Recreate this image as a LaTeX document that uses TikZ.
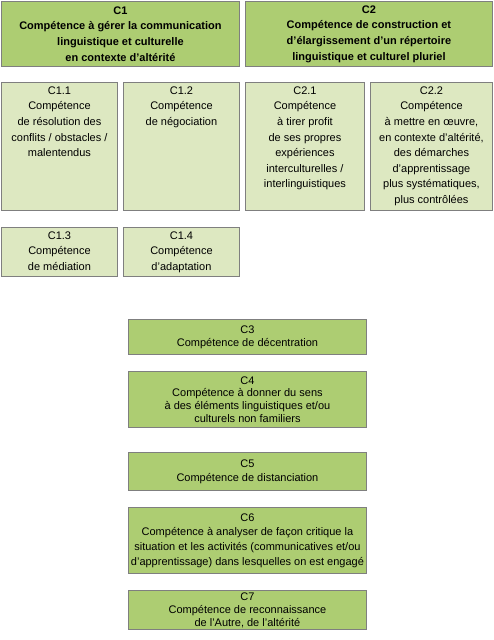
\documentclass[tikz,border=0pt]{standalone}
\usepackage{fontspec}
\setmainfont{Liberation Sans}
\usetikzlibrary{shadows}
\definecolor{gfill}{HTML}{ADCD72}
\definecolor{lfill}{HTML}{DDE8C1}
\definecolor{bord}{HTML}{7F7F7F}
\tikzset{
  box/.style={draw=bord, line width=0.9pt, rectangle, anchor=north west, inner sep=0pt,
    align=center, font=\fontsize{11}{15.6}\selectfont,
    drop shadow={shadow xshift=0.8pt, shadow yshift=-0.8pt, fill=black, opacity=0.35}},
  gbox/.style={box, fill=gfill},
  lbox/.style={box, fill=lfill},
  txt/.style={anchor=north, inner sep=0pt, align=center, font=\fontsize{11}{15.6}\selectfont},
}
\begin{document}
\begin{tikzpicture}[x=1pt,y=-1pt]
\useasboundingbox (0,0) rectangle (493,640);
% top row
\node[gbox, minimum width=238pt, minimum height=65pt] (c1) at (1,1)
  {\textbf{C1}\\\textbf{Compétence à gérer la communication}\\\textbf{linguistique et culturelle}\\\textbf{en contexte d’altérité}};
\node[gbox, minimum width=247pt, minimum height=65pt] (c2) at (245,1)
  {\textbf{C2}\\\textbf{Compétence de construction et}\\\textbf{d’élargissement d’un répertoire}\\\textbf{linguistique et culturel pluriel}};
% second row
\node[lbox, minimum width=116pt, minimum height=128pt] (c11) at (1,82) {};
\node[lbox, minimum width=116pt, minimum height=128pt] (c12) at (123,82) {};
\node[lbox, minimum width=119pt, minimum height=128pt] (c21) at (245,82) {};
\node[lbox, minimum width=122pt, minimum height=128pt] (c22) at (370,82) {};
\node[txt] (t11) at ([yshift=-4.5pt]c11.north) {C1.1\\Compétence\\de résolution des\\conflits / obstacles /\\malentendus};
\node[txt] (t12) at ([yshift=-4.5pt]c12.north) {C1.2\\Compétence\\de négociation};
\node[txt] (t21) at ([yshift=-4.5pt]c21.north) {C2.1\\Compétence\\à tirer profit\\de ses propres\\expériences\\interculturelles /\\interlinguistiques};
\node[txt] (t22) at ([yshift=-4.5pt]c22.north) {C2.2\\Compétence\\à mettre en œuvre,\\en contexte d’altérité,\\des démarches\\d’apprentissage\\plus systématiques,\\plus contrôlées};
% third row
\node[lbox, minimum width=116pt, minimum height=49pt] (c13) at (1,227) {};
\node[lbox, minimum width=116pt, minimum height=49pt] (c14) at (123,227) {};
\node[txt] (t13) at ([yshift=-4.5pt]c13.north) {C1.3\\Compétence\\de médiation};
\node[txt] (t14) at ([yshift=-4.5pt]c14.north) {C1.4\\Compétence\\d’adaptation};
% column
\node[gbox, minimum width=238pt, minimum height=35pt, font=\fontsize{11}{12.8}\selectfont] (c3) at (128,319)
  {C3\\Compétence de décentration};
\node[gbox, minimum width=238pt, minimum height=56pt, font=\fontsize{11}{12.6}\selectfont] (c4) at (128,371)
  {C4\\Compétence à donner du sens\\à des éléments linguistiques et/ou\\culturels non familiers};
\node[gbox, minimum width=238pt, minimum height=38pt, font=\fontsize{11}{14}\selectfont] (c5) at (128,452)
  {C5\\Compétence de distanciation};
\node[gbox, minimum width=238pt, minimum height=66pt, font=\fontsize{11}{14.7}\selectfont] (c6) at (128,507)
  {C6\\Compétence à analyser de façon critique la\\situation et les activités (communicatives et/ou\\d’apprentissage) dans lesquelles on est engagé};
\node[gbox, minimum width=238pt, minimum height=39pt, font=\fontsize{11}{13}\selectfont] (c7) at (128,590)
  {C7\\Compétence de reconnaissance\\de l’Autre, de l’altérité};
\end{tikzpicture}
\end{document}
